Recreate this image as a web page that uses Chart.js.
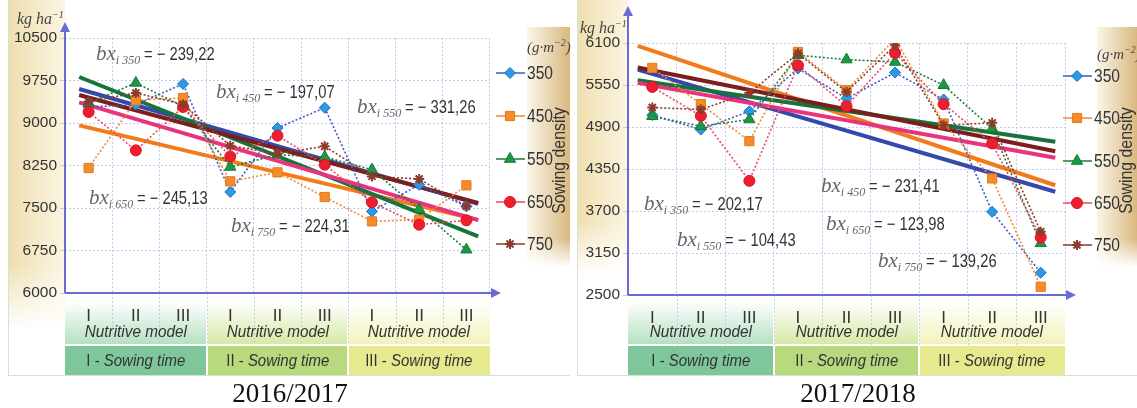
<!DOCTYPE html>
<html>
<head>
<meta charset="utf-8">
<title>Yield by sowing density</title>
<script src="https://cdn.jsdelivr.net/npm/chart.js@4.4.1/dist/chart.umd.min.js"></script>
<style>
  body { margin: 0; width: 1137px; height: 408px; background: #fff; position: relative; overflow: hidden;
         font-family: 'Liberation Sans', Arial, sans-serif; color: #333; }
  .a { position: absolute; }
  canvas { position: absolute; top: 0; }
  .unit { font-family: 'Liberation Serif', 'Times New Roman', serif; font-style: italic; font-size: 16px; color: #444; white-space: nowrap; line-height: 20px; }
  .unit sup { font-size: 10px; }
  .bx { font-size: 18px; white-space: nowrap; color: #333; line-height: 22px; }
  .bx i { font-family: 'Liberation Serif', serif; font-size: 21px; color: #666; }
  .bx sub { font-family: 'Liberation Serif', serif; font-style: italic; font-size: 12px; color: #666; vertical-align: -4px; margin-right: 4px; }
  .bx span { display: inline-block; transform: scaleX(0.82); transform-origin: left center; }
  .row1 { font-style: italic; font-size: 17px; text-align: center; line-height: 20px; transform: scaleX(0.9); }
  .row2 { font-size: 17px; text-align: center; line-height: 20px; transform: scaleX(0.88); }
  .year { font-family: 'Liberation Serif', 'Times New Roman', serif; font-size: 27px; color: #111; text-align: center; width: 300px; line-height: 30px; }
  .dens { writing-mode: vertical-rl; transform: rotate(180deg) scaleY(0.88); font-size: 18px; white-space: nowrap; }
</style>
</head>
<body>
<script>
const categories = ['I', 'II', 'III', 'I', 'II', 'III', 'I', 'II', 'III'];
const sowingTimes = ['I', 'II', 'III'];
const densities = ['350', '450', '550', '650', '750'];

// 2016/2017, kg/ha
const yTicks1617 = ['6000', '6750', '7500', '8250', '9000', '9750', '10500'];
const y1617_350 = [9283, 9323, 9690, 7783, 8912, 9270, 7440, 7911, 7529];
const y1617_450 = [8206, 9400, 9442, 7970, 8129, 7694, 7264, 7294, 7900];
const y1617_550 = [9353, 9707, 9290, 8224, 8441, 8400, 8176, 7480, 6764];
const y1617_650 = [9195, 8517, 9283, 8411, 8776, 8264, 7600, 7205, 7282];
const y1617_750 = [9380, 9530, 9330, 8600, 8460, 8588, 8058, 8012, 7530];
const trendStart1617 = [9600, 8958, 9812, 9364, 9494];
const trendEnd1617 = [7572, 7290, 7000, 7285, 7590];
const bx1617 = ['239,22', '197,07', '331,26', '245,13', '224,31'];

// 2017/2018, kg/ha
const yTicks1718 = ['2500', '3150', '3700', '4350', '4900', '5550', '6100'];
const y1718_350 = [5070, 4864, 5126, 5735, 5307, 5678, 5293, 3689, 2818];
const y1718_450 = [5744, 5226, 4698, 5972, 5426, 6163, 4950, 4165, 2618];
const y1718_550 = [5054, 4912, 5007, 5925, 5863, 5829, 5497, 4879, 3238];
const y1718_650 = [5473, 5059, 4131, 5782, 5197, 5958, 5226, 4665, 3323];
const y1718_750 = [5178, 5150, 5387, 5950, 5401, 6068, 4926, 4959, 3403];
const trendStart1718 = [5720, 6058, 5568, 5530, 5749];
const trendEnd1718 = [3975, 4068, 4690, 4460, 4553];
const bx1718 = ['202,17', '231,41', '104,43', '123,98', '139,26'];

const lineColors = ['#3d5cc4', '#f28a2e', '#1d7b3c', '#e94a5e', '#8d3a2c'];
const pointColors = ['#2a9ae6', '#f58c2a', '#1a9a47', '#ee1d2f', '#a0402f'];
const pointBorders = ['#1f6fc0', '#e27a1e', '#127a36', '#d8141f', '#8d3a2c'];
const trendColors = ['#3549ad', '#f27b1c', '#14743a', '#e8347c', '#7b1e1c'];
const pointStyles = ['rectRot', 'rect', 'triangle', 'circle', 'star'];
const pointSizes = [5.5, 6.5, 6.5, 5.5, 5];
const pointBorderW = [1, 1, 1, 1, 2];
const gridColor = '#c6c6ee';
const axisColor = '#6b6bd6';
const tickFont = { family: "'Liberation Sans', Arial, sans-serif", size: 15.5 };

const panels = [
  {
    left: 0, width: 570, plotL: 65, plotR: 490, plotT: 38, plotB: 293, arrowTop: 22,
    yMin: 6000, yMax: 10500, yStep: 750, yTicks: yTicks1617,
    series: [y1617_350, y1617_450, y1617_550, y1617_650, y1617_750],
    tStart: trendStart1617, tEnd: trendEnd1617, tx0: -0.2, tx1: 8.25, bx: bx1617,
    notes: [[96, 42], [216, 80], [357, 95], [89, 186], [231, 214]],
    legX: 496, legY: [73, 116, 159, 202, 244], stripL: 8, stripH: 330, tanL: 527,
    unit: [17, 5, 16], unitG: [527, 33], densY: 158, year: '2016/2017', yearX: 290
  },
  {
    left: 570, width: 567, plotL: 628, plotR: 1065, plotT: 43, plotB: 295, arrowTop: 6,
    yMin: 2500, yMax: 6100, yStep: 600, yTicks: yTicks1718,
    series: [y1718_350, y1718_450, y1718_550, y1718_650, y1718_750],
    tStart: trendStart1718, tEnd: trendEnd1718, tx0: -0.3, tx1: 8.3, bx: bx1718,
    notes: [[644, 192], [821, 174], [677, 228], [826, 212], [878, 249]],
    legX: 1063, legY: [76, 118, 161, 203, 245], stripL: 577, stripH: 275, tanL: 1097,
    unit: [580, 14, 16], unitG: [1097, 40], densY: 158, year: '2017/2018', yearX: 858
  }
];

const boxColors = [['#b5e0c2', '#7fc79a'], ['#d5eaa6', '#b9d97f'], ['#f1f3bb', '#e7e98f']];

function addDiv(cls, style, html) {
  const d = document.createElement('div');
  d.className = 'a ' + cls;
  for (const k in style) d.style[k] = style[k];
  d.innerHTML = html || '';
  document.body.appendChild(d);
  return d;
}

function decorPlugin(p) {
  return {
    id: 'decor',
    afterDraw(chart) {
      const ctx = chart.ctx, a = chart.chartArea, xs = chart.scales.x;
      ctx.save();
      // dotted grid continues into the category row
      ctx.strokeStyle = gridColor; ctx.lineWidth = 1; ctx.setLineDash([2, 2]);
      for (let i = 1; i < categories.length; i++) {
        const gx = Math.round((xs.getPixelForValue(i - 1) + xs.getPixelForValue(i)) / 2) + 0.5;
        ctx.beginPath(); ctx.moveTo(gx, a.bottom); ctx.lineTo(gx, a.bottom + 50); ctx.stroke();
      }
      ctx.setLineDash([]);
      // axes with arrows
      ctx.strokeStyle = axisColor; ctx.fillStyle = axisColor; ctx.lineWidth = 2;
      ctx.beginPath(); ctx.moveTo(a.left, a.bottom); ctx.lineTo(a.left, p.arrowTop + 8); ctx.stroke();
      ctx.beginPath(); ctx.moveTo(a.left, p.arrowTop); ctx.lineTo(a.left - 5, p.arrowTop + 10); ctx.lineTo(a.left + 5, p.arrowTop + 10); ctx.fill();
      ctx.beginPath(); ctx.moveTo(a.left, a.bottom); ctx.lineTo(a.right + 2, a.bottom); ctx.stroke();
      ctx.beginPath(); ctx.moveTo(a.right + 11, a.bottom); ctx.lineTo(a.right + 1, a.bottom - 5); ctx.lineTo(a.right + 1, a.bottom + 5); ctx.fill();
      // legend
      const lx = p.legX - p.left;
      densities.forEach((d, i) => {
        const ly = p.legY[i];
        ctx.strokeStyle = lineColors[i]; ctx.lineWidth = 1.5;
        ctx.beginPath(); ctx.moveTo(lx, ly); ctx.lineTo(lx + 29, ly); ctx.stroke();
        ctx.fillStyle = pointColors[i]; ctx.strokeStyle = pointBorders[i]; ctx.lineWidth = pointBorderW[i];
        Chart.helpers.drawPoint(ctx, { pointStyle: pointStyles[i], radius: pointSizes[i], borderWidth: pointBorderW[i], rotation: 0 }, lx + 14, ly);
        ctx.save();
        ctx.fillStyle = '#333';
        ctx.font = "19px 'Liberation Sans', Arial, sans-serif";
        ctx.textAlign = 'left'; ctx.textBaseline = 'middle';
        ctx.translate(lx + 31, ly + 1);
        ctx.scale(0.82, 1);
        ctx.fillText(d, 0, 0);
        ctx.restore();
      });
      ctx.restore();
    }
  };
}

function buildPanel(p) {
  const H = 378;
  // backgrounds
  addDiv('', { left: p.stripL + 'px', top: '0px', width: (p.plotL - p.stripL) + 'px', height: p.stripH + 'px',
    background: 'linear-gradient(to bottom, rgba(255,255,255,0) 80%, #fff 100%), linear-gradient(to right, #efdeae, #fbf5e2)' });
  addDiv('', { left: p.tanL + 'px', top: '27px', width: (p.left + p.width - p.tanL) + 'px', height: '240px',
    background: 'linear-gradient(to bottom, rgba(255,255,255,0) 88%, #fff 100%), linear-gradient(to right, #fbf6ea, #d8b87f)' });
  const bw = (p.plotR - p.plotL) / 3;
  sowingTimes.forEach((s, k) => {
    const x0 = p.plotL + k * bw + (k ? 1 : 0);
    const w = bw - (k ? 1 : 0) - (k < 2 ? 1 : 0);
    addDiv('', { left: x0 + 'px', top: '297px', width: w + 'px', height: '47px',
      background: 'linear-gradient(to bottom, #fff 10%, ' + boxColors[k][0] + ')' });
    addDiv('', { left: x0 + 'px', top: '346px', width: w + 'px', height: '29px', background: boxColors[k][1] });
  });
  // panel frame lines
  addDiv('', { left: p.stripL + 'px', top: '0px', width: '1px', height: '376px', background: '#cfe4d3' });
  addDiv('', { left: p.stripL + 'px', top: '375px', width: (p.left + p.width - p.stripL) + 'px', height: '1px', background: '#cfe4d3' });

  // chart
  const cv = document.createElement('canvas');
  cv.width = p.width; cv.height = H;
  cv.style.left = p.left + 'px';
  document.body.appendChild(cv);

  const datasets = [];
  p.series.forEach((vals, i) => {
    datasets.push({
      label: densities[i], data: vals, order: 1,
      borderColor: lineColors[i], borderWidth: 1.6, borderDash: [2, 2],
      pointStyle: pointStyles[i], pointRadius: pointSizes[i], pointBackgroundColor: pointColors[i],
      pointBorderColor: pointBorders[i], pointBorderWidth: pointBorderW[i]
    });
  });
  p.tStart.forEach((v, i) => {
    datasets.push({
      label: 'trend ' + densities[i], xAxisID: 'xt', order: 2,
      data: [{ x: p.tx0, y: v }, { x: p.tx1, y: p.tEnd[i] }],
      borderColor: trendColors[i], borderWidth: 4, pointRadius: 0
    });
  });
  datasets.reverse();

  new Chart(cv, {
    type: 'line',
    data: { labels: categories, datasets },
    options: {
      responsive: false, animation: false,
      layout: { padding: { left: 0, top: p.plotT, right: p.left + p.width - p.plotR, bottom: 0 } },
      plugins: { legend: { display: false }, tooltip: { enabled: false } },
      scales: {
        x: {
          offset: true,
          grid: { offset: true, color: gridColor, drawTicks: false },
          border: { display: false, dash: [2, 2] },
          ticks: { color: '#333', font: { family: tickFont.family, size: 17 }, padding: 13 },
          afterFit: s => { s.height = H - p.plotB; }
        },
        xt: { type: 'linear', display: false, min: -0.5, max: 8.5 },
        y: {
          min: p.yMin, max: p.yMax,
          grid: { color: gridColor, tickLength: 5 },
          border: { display: false, dash: [2, 2] },
          ticks: { stepSize: p.yStep, color: '#333', font: tickFont, padding: 3,
                   callback: (v, i) => p.yTicks[i] },
          afterFit: s => { s.width = p.plotL - p.left; }
        }
      }
    },
    plugins: [decorPlugin(p)]
  });

  // texts
  sowingTimes.forEach((s, k) => {
    const x0 = p.plotL + k * bw;
    addDiv('row1', { left: x0 + 'px', top: '322px', width: bw + 'px' }, 'Nutritive model');
    addDiv('row2', { left: x0 + 'px', top: '351px', width: bw + 'px' }, s + ' - <i>Sowing time</i>');
  });
  p.notes.forEach((n, i) => {
    addDiv('bx', { left: n[0] + 'px', top: n[1] + 'px' },
      '<i>bx</i><sub>i ' + densities[i] + '</sub><span>= − ' + p.bx[i] + '</span>');
  });
  addDiv('unit', { left: p.unit[0] + 'px', top: p.unit[1] + 'px', fontSize: p.unit[2] + 'px' }, 'kg ha<sup>−1</sup>');
  addDiv('unit', { left: p.unitG[0] + 'px', top: p.unitG[1] + 'px', fontSize: '15px' }, '(g·m<sup>−2</sup>)');
  addDiv('dens', { left: (p.left + p.width - 21) + 'px', top: (p.densY - 58) + 'px' }, 'Sowing density');
  addDiv('year', { left: (p.yearX - 150) + 'px', top: '378px' }, p.year);
}

panels.forEach(buildPanel);
</script>
</body>
</html>
